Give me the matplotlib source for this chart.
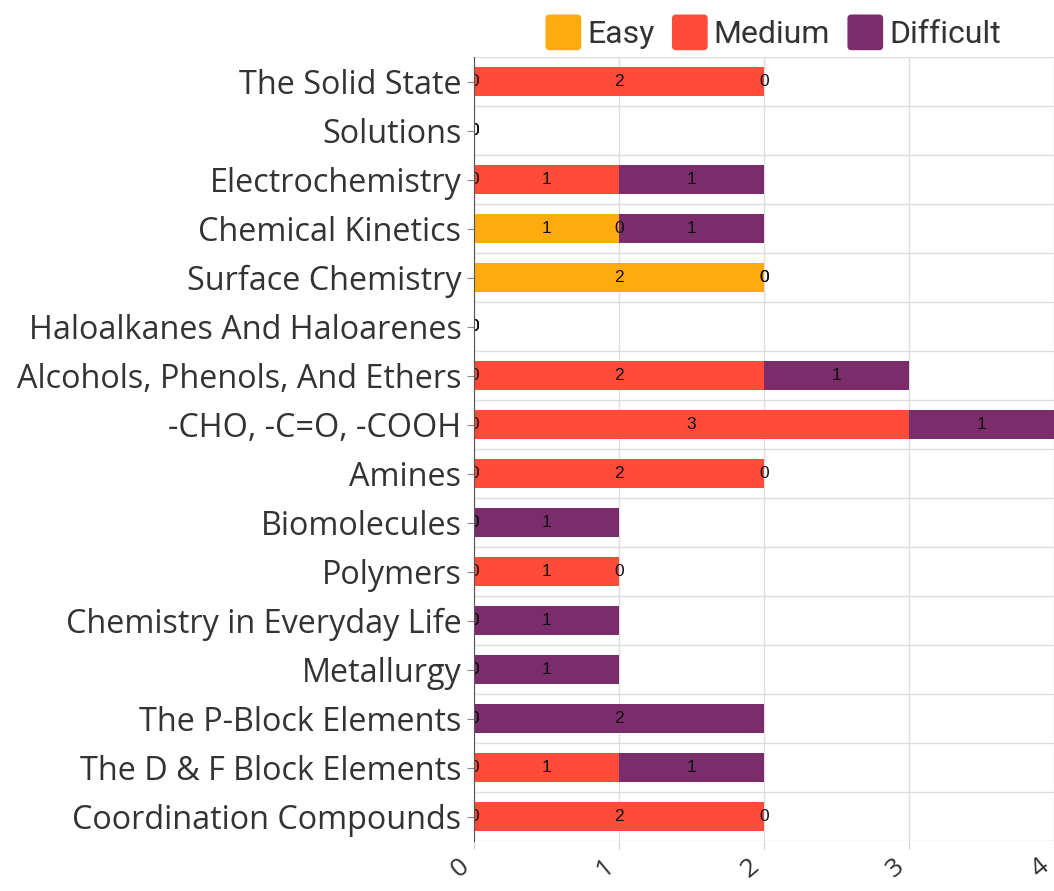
import numpy as np
import matplotlib.pyplot as plt
from matplotlib.patches import FancyBboxPatch, Patch
from matplotlib.legend_handler import HandlerPatch

# chapters, top to bottom as they appear
chapters = [
    "The Solid State", "Solutions", "Electrochemistry", "Chemical Kinetics",
    "Surface Chemistry", "Haloalkanes And Haloarenes",
    "Alcohols, Phenols, And Ethers", "-CHO, -C=O, -COOH", "Amines",
    "Biomolecules", "Polymers", "Chemistry in Everyday Life", "Metallurgy",
    "The P-Block Elements", "The D & F Block Elements", "Coordination Compounds",
]
easy = [0, 0, 0, 1, 2, 0, 0, 0, 0, 0, 0, 0, 0, 0, 0, 0]
medium = [2, 0, 1, 0, 0, 0, 2, 3, 2, 0, 1, 0, 0, 0, 1, 2]
difficult = [0, 0, 1, 1, 0, 0, 1, 1, 0, 1, 0, 1, 1, 2, 1, 0]
levels = ["Easy", "Medium", "Difficult"]
colors = ["#FFAB0F", "#FF4B3A", "#7B2C6B"]
xticks = [0, 1, 2, 3, 4]

fig = plt.figure(figsize=(10.54, 8.91), dpi=100)
ax = fig.add_axes([0.4497, 0.0561, 0.5503, 0.8799])

y = np.arange(len(chapters))
left = np.zeros(len(chapters))
for name, vals, col in zip(levels, [easy, medium, difficult], colors):
    vals = np.array(vals)
    ax.barh(y, vals, left=left, height=0.6, color=col, zorder=2)
    for yi, l, v in zip(y, left, vals):
        ax.text(l + v / 2, yi, str(v), ha="center", va="center", fontsize=12.5,
                family="Liberation Sans", color="#111111", zorder=3, clip_on=True)
    left += vals

ax.set_ylim(len(chapters) - 0.5, -0.5)
ax.set_xlim(0, 4)
ax.set_yticks(y)
ax.set_yticklabels(chapters, family="Open Sans", fontsize=23.3, color="#333333")
ax.set_yticks(np.arange(-0.5, len(chapters)), minor=True)
ax.set_xticks(xticks)
ax.set_xticklabels([str(t) for t in xticks], rotation=40, ha="right",
                   family="Open Sans", fontsize=19, color="#333333")
ax.tick_params(axis="y", which="major", length=5, color="#888888", pad=4)
ax.tick_params(axis="y", which="minor", length=0)
ax.tick_params(axis="x", length=6, color="#cccccc", pad=3)
ax.grid(axis="y", which="minor", color="#dddddd", lw=1, zorder=0)
ax.grid(axis="x", which="major", color="#dddddd", lw=1, zorder=0)
for s in ["top", "right", "bottom"]:
    ax.spines[s].set_visible(False)
ax.spines["left"].set_color("#555555")
ax.spines["left"].set_zorder(4)


class RoundSquare(HandlerPatch):
    def create_artists(self, legend, orig_handle, xdescent, ydescent, width,
                       height, fontsize, trans):
        s = height * 1.25
        p = FancyBboxPatch((-xdescent + (width - s) / 2, -ydescent + (height - s) / 2),
                           s, s, boxstyle="round,pad=0,rounding_size=3",
                           facecolor=orig_handle.get_facecolor(), edgecolor="none",
                           transform=trans)
        return [p]


handles = [Patch(facecolor=c, label=n) for n, c in zip(levels, colors)]
leg = fig.legend(handles=handles, loc="upper right", bbox_to_anchor=(0.977, 1.012),
                 ncol=3, frameon=False, prop={"family": "Roboto", "size": 23},
                 handlelength=1.0, handleheight=1.0, handletextpad=0.25,
                 columnspacing=0.6,
                 handler_map={Patch: RoundSquare()})
for t in leg.get_texts():
    t.set_color("#333333")

fig.savefig("out.png", dpi=100)
